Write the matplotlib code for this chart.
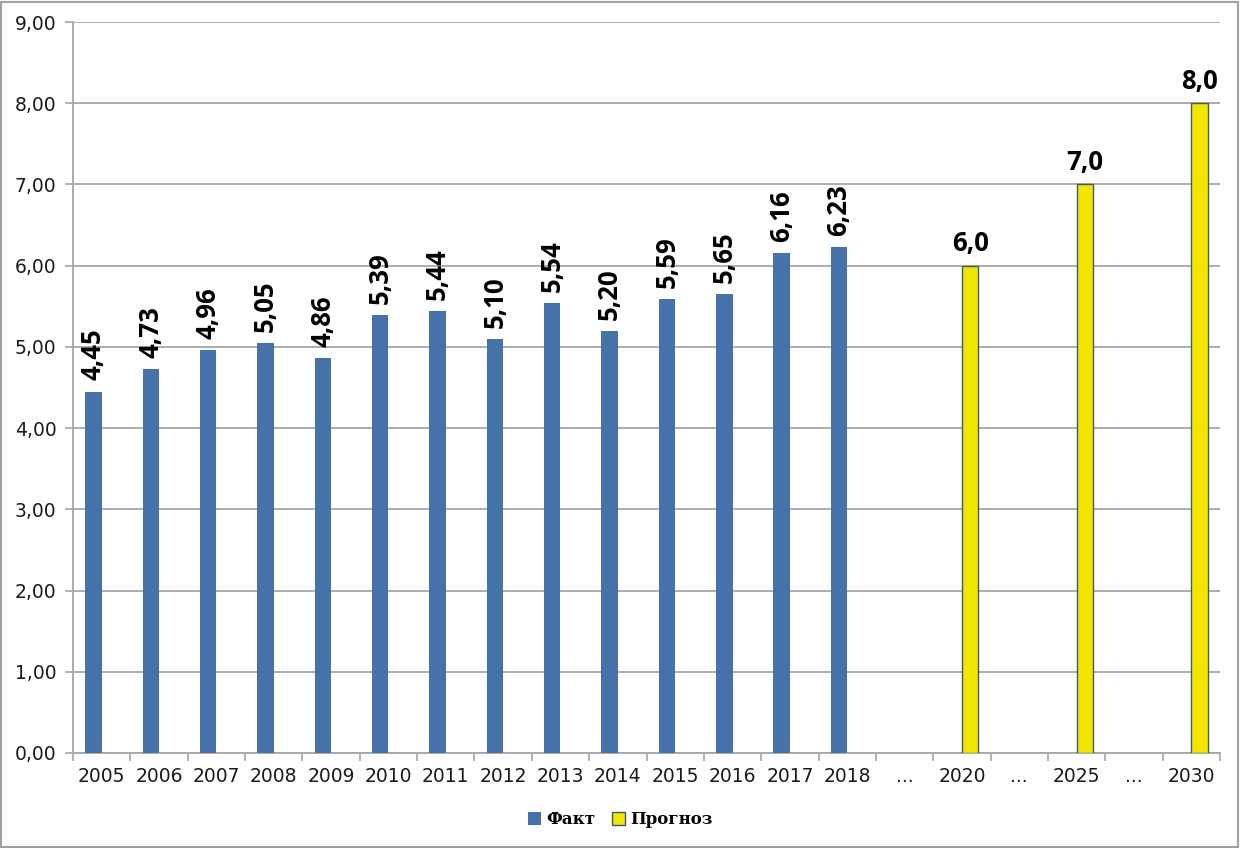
import numpy as np
import matplotlib
matplotlib.use('Agg')
import matplotlib.pyplot as plt
from matplotlib.patches import Rectangle

# data
categories = ['2005', '2006', '2007', '2008', '2009', '2010', '2011', '2012', '2013',
              '2014', '2015', '2016', '2017', '2018', '...', '2020', '...', '2025', '...', '2030']
fact = [4.45, 4.73, 4.96, 5.05, 4.86, 5.39, 5.44, 5.10, 5.54, 5.20, 5.59, 5.65, 6.16, 6.23]
forecast_idx = [15, 17, 19]
forecast = [6.0, 7.0, 8.0]
yticks = np.arange(0, 10, 1)

blue = '#4672A9'
yellow = '#F2E600'
grid_c = '#A6A6A6'

fig = plt.figure(figsize=(12.4, 8.48), dpi=100)
ax = fig.add_axes([73 / 1240, 95 / 848, 1147 / 1240, 731 / 848])

w = 0.288
x_fact = np.arange(len(fact))
bars_f = ax.bar(x_fact - w / 2, fact, width=w, color=blue, label='Факт', zorder=3)
bars_p = ax.bar(np.array(forecast_idx) + w / 2, forecast, width=w, color=yellow,
                edgecolor='#3E5A6C', linewidth=1.0, label='Прогноз', zorder=3)

lab_font = {'family': 'Open Sans', 'weight': 'bold', 'size': 18.5}
for b, v in zip(bars_f, fact):
    ax.annotate(f'{v:.2f}'.replace('.', ','), (b.get_x() + b.get_width() / 2, v),
                xytext=(0, 8), textcoords='offset points', rotation=90,
                ha='center', va='bottom', color='black', **lab_font)
for b, v in zip(bars_p, forecast):
    ax.annotate(f'{v:.1f}'.replace('.', ','), (b.get_x() + b.get_width() / 2, v),
                xytext=(0, 6), textcoords='offset points',
                ha='center', va='bottom', color='black', **lab_font)

ax.set_xlim(-0.5, len(categories) - 0.5)
ax.set_ylim(0, 9)
ax.set_yticks(yticks)
ax.set_yticklabels([f'{t:.2f}'.replace('.', ',') for t in yticks])
ax.set_xticks(np.arange(len(categories)))
ax.set_xticklabels(categories)
ax.set_xticks(np.arange(len(categories) + 1) - 0.5, minor=True)
ax.tick_params(axis='x', which='major', length=0, pad=10, labelsize=13.5, labelcolor='#1a1a1a')
ax.tick_params(axis='x', which='minor', length=6, width=1.2, color=grid_c, direction='out')
ax.tick_params(axis='y', length=6, width=1.2, color=grid_c, pad=6, labelsize=13.5,
               labelcolor='#1a1a1a')

ax.yaxis.grid(True, color=grid_c, linewidth=1.3, zorder=0)
ax.set_axisbelow(True)
for s in ['top', 'right']:
    ax.spines[s].set_visible(False)
for s in ['left', 'bottom']:
    ax.spines[s].set_color(grid_c)
    ax.spines[s].set_linewidth(1.3)

leg = fig.legend(handles=[bars_f, bars_p], loc='center', bbox_to_anchor=(0.5, 1 - 820 / 848),
                 ncol=2, frameon=False, handlelength=0.8, handleheight=0.8,
                 handletextpad=0.3, columnspacing=1.0,
                 prop={'family': 'DejaVu Serif', 'weight': 'bold', 'size': 12})

fig.patches.append(Rectangle((0.001, 0.001), 0.997, 0.997, transform=fig.transFigure,
                             fill=False, edgecolor='#A0A0A0', linewidth=1.5))

fig.savefig('out.png', dpi=100)
